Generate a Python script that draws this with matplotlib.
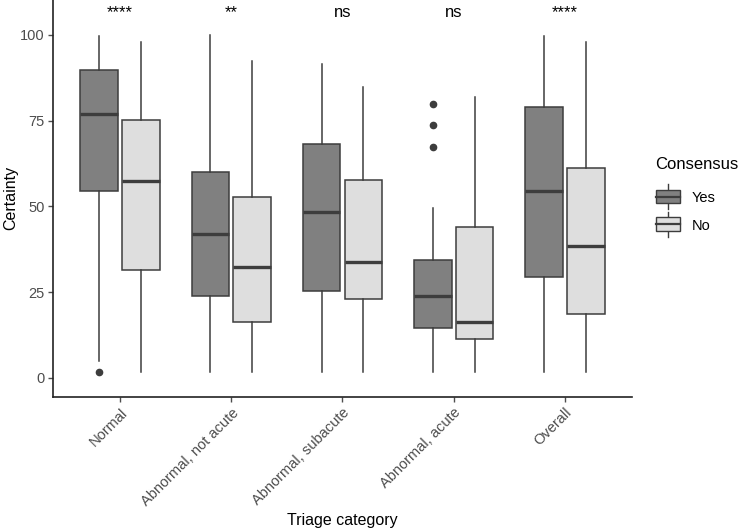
import numpy as np
import matplotlib
matplotlib.use('Agg')
import matplotlib.pyplot as plt
from matplotlib.legend_handler import HandlerBase
from matplotlib.patches import Rectangle
from matplotlib.lines import Line2D

plt.rcParams['font.family'] = ['Liberation Sans', 'DejaVu Sans']

categories = ['Normal', 'Abnormal, not acute', 'Abnormal, subacute', 'Abnormal, acute', 'Overall']
groups = ['Yes', 'No']
signif = ['****', '**', 'ns', 'ns', '****']

# five-number summaries, per category
yes_whislo = [4.9, 1.6, 1.6, 1.6, 1.6]
yes_q1 = [54.6, 23.8, 25.3, 14.6, 29.3]
yes_med = [76.9, 41.9, 48.4, 23.8, 54.5]
yes_q3 = [89.8, 60.1, 68.2, 34.5, 79.1]
yes_whishi = [99.7, 100.0, 91.5, 49.4, 99.8]
yes_fliers = [[1.6], [], [], [79.9, 73.7, 67.4], []]

no_whislo = [1.6, 1.6, 1.6, 1.6, 1.6]
no_q1 = [31.4, 16.3, 23.1, 11.4, 18.5]
no_med = [57.4, 32.2, 33.9, 16.3, 38.5]
no_q3 = [75.1, 52.6, 57.7, 44.1, 61.1]
no_whishi = [98.0, 92.4, 84.9, 81.8, 97.9]
no_fliers = [[], [], [], [], []]

fills = {'Yes': '#808080', 'No': '#DEDEDE'}
edge = '#3d3d3d'


def make_stats(lo, q1, med, q3, hi, fl):
    return [dict(whislo=a, q1=b, med=c, q3=d, whishi=e, fliers=f)
            for a, b, c, d, e, f in zip(lo, q1, med, q3, hi, fl)]


stats = {
    'Yes': make_stats(yes_whislo, yes_q1, yes_med, yes_q3, yes_whishi, yes_fliers),
    'No': make_stats(no_whislo, no_q1, no_med, no_q3, no_whishi, no_fliers),
}

fig = plt.figure(figsize=(7.4, 5.3), dpi=100)
ax = fig.add_axes([0.072, 0.2515, 0.7816, 0.7485])

x = np.arange(1, len(categories) + 1)
offset = 0.1875
width = 0.3375

for i, g in enumerate(groups):
    pos = x + (offset if g == 'No' else -offset)
    ax.bxp(stats[g], positions=pos, widths=width, patch_artist=True,
           showcaps=False, manage_ticks=False,
           boxprops=dict(facecolor=fills[g], edgecolor=edge, linewidth=1.1),
           medianprops=dict(color=edge, linewidth=2.4, solid_capstyle='butt'),
           whiskerprops=dict(color=edge, linewidth=1.1),
           flierprops=dict(marker='o', markerfacecolor=edge, markeredgecolor=edge,
                           markersize=4.5, linestyle='none'))

for xi, s in zip(x, signif):
    ax.text(xi, 105.2, s, ha='center', va='baseline', fontsize=12, color='black')

ax.set_xlim(0.4, 5.6)
ax.set_ylim(-5.5, 110.2)
ax.set_yticks([0, 25, 50, 75, 100])
ax.set_xticks(x)
ax.set_xticklabels(categories, rotation=45, ha='right', va='top', rotation_mode='anchor')

for side in ['top', 'right']:
    ax.spines[side].set_visible(False)
for side in ['left', 'bottom']:
    ax.spines[side].set_color('#222222')
    ax.spines[side].set_linewidth(1.2)

ax.tick_params(axis='both', colors='#4D4D4D', labelsize=10.5, length=3.5, width=1.0, pad=2.5)
ax.tick_params(axis='x', pad=3)
ax.set_ylabel('Certainty', fontsize=11.5, color='black', labelpad=1.5)
ax.set_xlabel('Triage category', fontsize=11.5, color='black', labelpad=3.5)


class BoxKey(HandlerBase):
    def create_artists(self, legend, orig_handle, xdescent, ydescent, width, height, fontsize, trans):
        fc = orig_handle.get_facecolor()
        w = width
        h = height
        bx0, bx1 = 0, w
        by0, by1 = -0.1 * h, h * 1.1
        box = Rectangle((bx0, by0), bx1 - bx0, by1 - by0, facecolor=fc,
                        edgecolor=edge, linewidth=1.0, transform=trans)
        med = Line2D([bx0, bx1], [h / 2, h / 2], color=edge, linewidth=1.6, transform=trans)
        wh1 = Line2D([w / 2, w / 2], [by1, by1 + 0.45 * h], color=edge, linewidth=1.0, transform=trans)
        wh2 = Line2D([w / 2, w / 2], [by0, by0 - 0.45 * h], color=edge, linewidth=1.0, transform=trans)
        return [wh1, wh2, box, med]


handles = [Rectangle((0, 0), 1, 1, facecolor=fills[g]) for g in groups]
leg = fig.legend(handles, groups, handler_map={Rectangle: BoxKey()},
                 loc='upper left', bbox_to_anchor=(0.878, 0.715), frameon=False,
                 title='Consensus', title_fontsize=12, fontsize=10.5,
                 handlelength=1.7, handleheight=0.85, labelspacing=0.95,
                 handletextpad=0.8, borderaxespad=0)
leg._legend_box.align = 'left'
leg._legend_box.sep = 14

fig.savefig('out.png', dpi=100)
